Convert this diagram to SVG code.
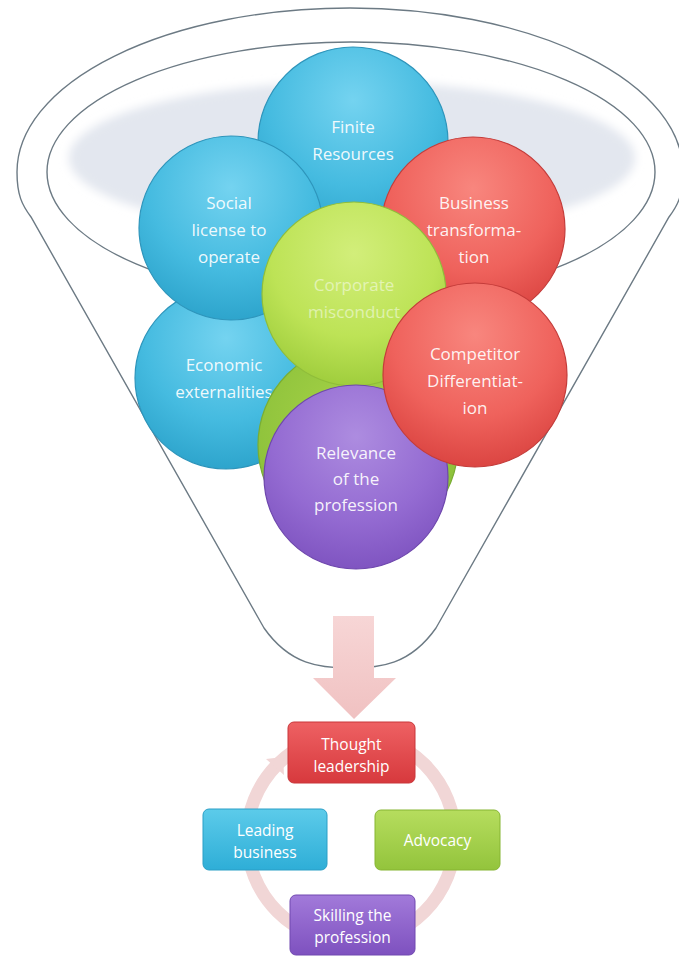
<svg xmlns="http://www.w3.org/2000/svg" width="679" height="957" viewBox="0 0 679 957">
  <style>
    .funnel { fill: none; stroke: #6c7a84; stroke-width: 1.4; }
    .lbl { font-family: "Open Sans", "Liberation Sans", sans-serif; font-size: 17px; fill: #ffffff; text-anchor: middle; }
    .lbl-soft { fill-opacity: 0.92; }
    .lbl-faint { fill-opacity: 0.5; }
    .box-lbl { font-family: "Open Sans", "Liberation Sans", sans-serif; font-size: 15.5px; fill: #ffffff; text-anchor: middle; }
    .disc { stroke-width: 1.2; }
    .box { stroke-width: 1; }
  </style>
  <defs>
    <radialGradient id="gBlue" cx="50%" cy="28%" r="75%">
      <stop offset="0" stop-color="#74d3f0"/>
      <stop offset="0.6" stop-color="#45bbe0"/>
      <stop offset="1" stop-color="#2ba2ca"/>
    </radialGradient>
    <radialGradient id="gRed" cx="50%" cy="28%" r="75%">
      <stop offset="0" stop-color="#f8867e"/>
      <stop offset="0.6" stop-color="#ef625c"/>
      <stop offset="1" stop-color="#d9423f"/>
    </radialGradient>
    <radialGradient id="gGreen" cx="50%" cy="28%" r="75%">
      <stop offset="0" stop-color="#d2ee7a"/>
      <stop offset="0.6" stop-color="#bde356"/>
      <stop offset="1" stop-color="#9ccb3a"/>
    </radialGradient>
    <radialGradient id="gGreenDeep" cx="50%" cy="40%" r="70%">
      <stop offset="0" stop-color="#a9d448"/>
      <stop offset="1" stop-color="#86bd38"/>
    </radialGradient>
    <radialGradient id="gPurple" cx="50%" cy="28%" r="75%">
      <stop offset="0" stop-color="#ad8ce0"/>
      <stop offset="0.6" stop-color="#946bd2"/>
      <stop offset="1" stop-color="#7d52bf"/>
    </radialGradient>
    <linearGradient id="bRed" x1="0" y1="0" x2="0" y2="1">
      <stop offset="0" stop-color="#ee6163"/>
      <stop offset="1" stop-color="#d7393d"/>
    </linearGradient>
    <linearGradient id="bBlue" x1="0" y1="0" x2="0" y2="1">
      <stop offset="0" stop-color="#5ccbea"/>
      <stop offset="1" stop-color="#2eaed7"/>
    </linearGradient>
    <linearGradient id="bGreen" x1="0" y1="0" x2="0" y2="1">
      <stop offset="0" stop-color="#b6dd5e"/>
      <stop offset="1" stop-color="#93c43c"/>
    </linearGradient>
    <linearGradient id="bPurple" x1="0" y1="0" x2="0" y2="1">
      <stop offset="0" stop-color="#a27ada"/>
      <stop offset="1" stop-color="#7e51bf"/>
    </linearGradient>
    <linearGradient id="gArrow" x1="0" y1="0" x2="0" y2="1">
      <stop offset="0" stop-color="#f7d6d6"/>
      <stop offset="1" stop-color="#f0c1c1"/>
    </linearGradient>
    <filter id="soft" x="-10%" y="-20%" width="120%" height="140%">
      <feGaussianBlur stdDeviation="5"/>
    </filter>
  </defs>

  <rect width="679" height="957" fill="#ffffff"/>

  <!-- funnel outline and mouth -->
  <g id="funnel">
    <ellipse cx="352" cy="158" rx="283" ry="76" fill="#e3e7ef" filter="url(#soft)"/>
    <path class="funnel" d="M17,172 A333,164 0 0 1 683,172 C683,195 678,205 669,217 L436,628 C410,665 380,668 350,668 C320,668 290,665 264,628 L31,217 C22,205 17,195 17,172 Z"/>
    <ellipse class="funnel" cx="351" cy="172" rx="304" ry="130"/>
  </g>

  <!-- inputs poured into the funnel -->
  <g id="finite-resources">
    <circle class="disc" cx="353" cy="142" r="95" fill="url(#gBlue)" stroke="#2e95bb"/>
    <text class="lbl lbl-soft" x="353" y="133">Finite</text>
    <text class="lbl lbl-soft" x="353" y="160">Resources</text>
  </g>
  <g id="economic-externalities">
    <circle class="disc" cx="226" cy="378" r="91" fill="url(#gBlue)" stroke="#2e95bb"/>
    <text class="lbl lbl-soft" x="224" y="371">Economic</text>
    <text class="lbl lbl-soft" x="224" y="398">externalities</text>
  </g>
  <g id="social-license">
    <circle class="disc" cx="231" cy="228" r="92" fill="url(#gBlue)" stroke="#2e95bb"/>
    <text class="lbl lbl-soft" x="229" y="209">Social</text>
    <text class="lbl lbl-soft" x="229" y="236">license to</text>
    <text class="lbl lbl-soft" x="229" y="263">operate</text>
  </g>
  <g id="business-transformation">
    <circle class="disc" cx="473" cy="229" r="92" fill="url(#gRed)" stroke="#c43c3a"/>
    <text class="lbl lbl-soft" x="474" y="209">Business</text>
    <text class="lbl lbl-soft" x="474" y="236">transforma-</text>
    <text class="lbl lbl-soft" x="474" y="263">tion</text>
  </g>
  <g id="green-backdrop">
    <circle class="disc" cx="358" cy="445" r="100" fill="url(#gGreenDeep)" stroke="#79ad33"/>
  </g>
  <g id="corporate-misconduct">
    <circle class="disc" cx="354" cy="294" r="92" fill="url(#gGreen)" stroke="#8fbd3a"/>
    <text class="lbl lbl-faint" x="354" y="291">Corporate</text>
    <text class="lbl lbl-faint" x="354" y="318">misconduct</text>
  </g>
  <g id="relevance">
    <circle class="disc" cx="356" cy="477" r="92" fill="url(#gPurple)" stroke="#6e47ad"/>
    <text class="lbl lbl-soft" x="356" y="459">Relevance</text>
    <text class="lbl lbl-soft" x="356" y="485">of the</text>
    <text class="lbl lbl-soft" x="356" y="511">profession</text>
  </g>
  <g id="competitor-differentiation">
    <circle class="disc" cx="475" cy="375" r="92" fill="url(#gRed)" stroke="#c43c3a"/>
    <text class="lbl lbl-soft" x="475" y="360">Competitor</text>
    <text class="lbl lbl-soft" x="475" y="387">Differentiat-</text>
    <text class="lbl lbl-soft" x="475" y="414">ion</text>
  </g>

  <!-- flow from the funnel into the cycle -->
  <g id="connectors">
    <polygon points="333,616 374,616 374,678 396,678 354,719 313,678 333,678" fill="url(#gArrow)"/>
    <circle cx="351" cy="838" r="104" fill="none" stroke="#f1d6d6" stroke-width="13"/>
    <polygon points="283,757 266,759 284,775" fill="#f1d6d6"/>
  </g>

  <!-- outcome cycle -->
  <g id="thought-leadership">
    <rect class="box" x="288" y="722" width="127" height="61" rx="6" fill="url(#bRed)" stroke="#c9363a"/>
    <text class="box-lbl" x="351.5" y="750">Thought</text>
    <text class="box-lbl" x="351.5" y="772">leadership</text>
  </g>
  <g id="leading-business">
    <rect class="box" x="203" y="809" width="124" height="61" rx="6" fill="url(#bBlue)" stroke="#2a9fc6"/>
    <text class="box-lbl" x="265" y="836">Leading</text>
    <text class="box-lbl" x="265" y="858">business</text>
  </g>
  <g id="advocacy">
    <rect class="box" x="375" y="810" width="125" height="60" rx="6" fill="url(#bGreen)" stroke="#86b533"/>
    <text class="box-lbl" x="437.5" y="846">Advocacy</text>
  </g>
  <g id="skilling">
    <rect class="box" x="290" y="895" width="125" height="60" rx="6" fill="url(#bPurple)" stroke="#7048b0"/>
    <text class="box-lbl" x="352.5" y="921">Skilling the</text>
    <text class="box-lbl" x="352.5" y="943">profession</text>
  </g>
</svg>
